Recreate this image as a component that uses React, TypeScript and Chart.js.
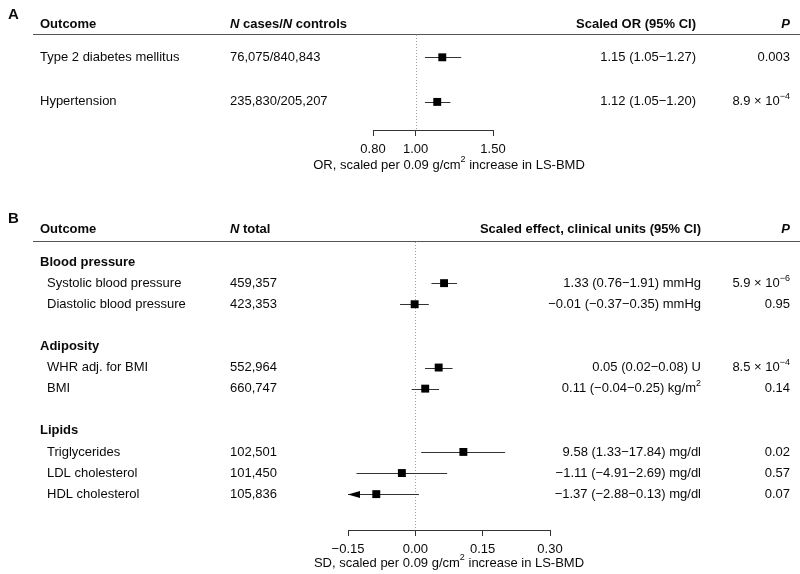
import { useEffect, useRef } from "react";
import { Chart, registerables } from "chart.js";

Chart.register(...registerables);

const FONT = '"Liberation Sans", Arial, Helvetica, sans-serif';
const INK = "#0a0a0a";

// ---------- Panel A data ----------
const aHeaders = ["Outcome", "*N* cases/*N* controls", "Scaled OR (95% CI)", "*P*"];
const aOutcomes = ["Type 2 diabetes mellitus", "Hypertension"];
const aCases = ["76,075/840,843", "235,830/205,207"];
const aRows = [0, 1];
const aOR = [1.15, 1.12];
const aLow = [1.05, 1.05];
const aHigh = [1.27, 1.2];
const aText = ["1.15 (1.05−1.27)", "1.12 (1.05−1.20)"];
const aP = ["0.003", "8.9 × 10^{−4}"];
const aTicks = [0.8, 1.0, 1.5];
const aAxisTitle = "OR, scaled per 0.09 g/cm^{2} increase in LS-BMD";

// ---------- Panel B data ----------
const bHeaders = ["Outcome", "*N* total", "Scaled effect, clinical units (95% CI)", "*P*"];
const bGroups = ["Blood pressure", "Adiposity", "Lipids"];
const bGroupRows = [0, 4, 8];
const bOutcomes = [
  "Systolic blood pressure",
  "Diastolic blood pressure",
  "WHR adj. for BMI",
  "BMI",
  "Triglycerides",
  "LDL cholesterol",
  "HDL cholesterol",
];
const bRows = [1, 2, 5, 6, 9, 10, 11];
const bN = ["459,357", "423,353", "552,964", "660,747", "102,501", "101,450", "105,836"];
const bEst = [0.064, -0.0015, 0.052, 0.022, 0.107, -0.03, -0.087];
const bLow = [0.036, -0.034, 0.0215, -0.008, 0.013, -0.131, -0.183];
const bHigh = [0.093, 0.03, 0.083, 0.053, 0.2, 0.071, 0.008];
const bText = [
  "1.33 (0.76−1.91) mmHg",
  "−0.01 (−0.37−0.35) mmHg",
  "0.05 (0.02−0.08) U",
  "0.11 (−0.04−0.25) kg/m^{2}",
  "9.58 (1.33−17.84) mg/dl",
  "−1.11 (−4.91−2.69) mg/dl",
  "−1.37 (−2.88−0.13) mg/dl",
];
const bP = ["5.9 × 10^{−6}", "0.95", "8.5 × 10^{−4}", "0.14", "0.02", "0.57", "0.07"];
const bTicks = [-0.15, 0, 0.15, 0.3];
const bAxisTitle = "SD, scaled per 0.09 g/cm^{2} increase in LS-BMD";

// ---------- helpers ----------
type Seg = { t: string; italic: boolean; sup: boolean };

function parseRich(s: string): Seg[] {
  const segs: Seg[] = [];
  let italic = false;
  let buf = "";
  const push = (sup = false) => {
    if (buf) segs.push({ t: buf, italic, sup });
    buf = "";
  };
  for (let i = 0; i < s.length; i++) {
    const c = s[i];
    if (c === "*") {
      push();
      italic = !italic;
    } else if (c === "^" && s[i + 1] === "{") {
      push();
      const end = s.indexOf("}", i);
      buf = s.slice(i + 2, end);
      push(true);
      i = end;
    } else {
      buf += c;
    }
  }
  push();
  return segs;
}

function drawRich(
  ctx: CanvasRenderingContext2D,
  s: string,
  x: number,
  y: number,
  align: "left" | "right" | "center",
  bold = false,
  size = 13
) {
  const segs = parseRich(s);
  const fontOf = (g: Seg) =>
    `${g.italic ? "italic " : ""}${bold ? "bold " : ""}${g.sup ? 9 : size}px ${FONT}`;
  let total = 0;
  const widths = segs.map((g) => {
    ctx.font = fontOf(g);
    const w = ctx.measureText(g.t).width;
    total += w;
    return w;
  });
  let cx = align === "right" ? x - total : align === "center" ? x - total / 2 : x;
  ctx.fillStyle = INK;
  ctx.textAlign = "left";
  ctx.textBaseline = "middle";
  segs.forEach((g, i) => {
    ctx.font = fontOf(g);
    ctx.fillText(g.t, cx, g.sup ? y - 5 : y);
    cx += widths[i];
  });
}

function hline(ctx: CanvasRenderingContext2D, y: number, x1: number, x2: number) {
  ctx.save();
  ctx.strokeStyle = "#555";
  ctx.lineWidth = 1;
  ctx.beginPath();
  ctx.moveTo(x1, y);
  ctx.lineTo(x2, y);
  ctx.stroke();
  ctx.restore();
}

function fmtTick(v: number) {
  const s = Math.abs(v).toFixed(2);
  return v < -1e-9 ? "−" + s : s;
}

type Panel = {
  xType: "linear" | "logarithmic";
  xMin: number;
  xMax: number;
  ticks: number[];
  yMin: number;
  yMax: number;
  rows: number[];
  est: number[];
  low: number[];
  high: number[];
  ref: number;
  pad: { left: number; right: number; top: number };
  axisH: number;
  tickLen: number;
  drawText: (ctx: CanvasRenderingContext2D, chart: any) => void;
};

function buildChart(canvas: HTMLCanvasElement, p: Panel) {
  const plugin = {
    id: "forest",
    beforeDatasetsDraw(chart: any) {
      const ctx: CanvasRenderingContext2D = chart.ctx;
      const xs = chart.scales.x;
      const ys = chart.scales.y;
      const ca = chart.chartArea;
      ctx.save();
      const rx = Math.round(xs.getPixelForValue(p.ref)) + 0.5;
      ctx.strokeStyle = "#a0a0a0";
      ctx.lineWidth = 1;
      ctx.setLineDash([1, 2]);
      ctx.beginPath();
      ctx.moveTo(rx, ca.top);
      ctx.lineTo(rx, ca.bottom);
      ctx.stroke();
      ctx.setLineDash([]);
      ctx.strokeStyle = "#333";
      ctx.fillStyle = "#000";
      p.rows.forEach((r, i) => {
        const y = Math.round(ys.getPixelForValue(r)) + 0.5;
        const lo = Math.max(p.low[i], p.xMin);
        const hi = Math.min(p.high[i], p.xMax);
        const x1 = xs.getPixelForValue(lo);
        const x2 = xs.getPixelForValue(hi);
        ctx.beginPath();
        ctx.moveTo(x1, y);
        ctx.lineTo(x2, y);
        ctx.stroke();
        if (p.low[i] < p.xMin) {
          ctx.beginPath();
          ctx.moveTo(x1, y);
          ctx.lineTo(x1 + 12, y - 3.5);
          ctx.lineTo(x1 + 12, y + 3.5);
          ctx.closePath();
          ctx.fill();
        }
        if (p.high[i] > p.xMax) {
          ctx.beginPath();
          ctx.moveTo(x2, y);
          ctx.lineTo(x2 - 12, y - 3.5);
          ctx.lineTo(x2 - 12, y + 3.5);
          ctx.closePath();
          ctx.fill();
        }
      });
      ctx.restore();
    },
    afterDraw(chart: any) {
      const ctx: CanvasRenderingContext2D = chart.ctx;
      ctx.save();
      p.drawText(ctx, chart);
      ctx.restore();
    },
  };

  return new Chart(canvas, {
    type: "scatter",
    data: {
      datasets: [
        {
          data: p.rows.map((r, i) => ({ x: p.est[i], y: r })),
          pointStyle: "rect",
          pointRadius: 5.6,
          pointHoverRadius: 5.6,
          backgroundColor: "#000",
          borderWidth: 0,
        },
      ],
    },
    options: {
      animation: false,
      responsive: false,
      devicePixelRatio: 1,
      events: [],
      layout: { padding: { left: p.pad.left, right: p.pad.right, top: p.pad.top, bottom: 0 } },
      plugins: { legend: { display: false }, tooltip: { enabled: false }, title: { display: false } },
      scales: {
        x: {
          type: p.xType,
          position: "bottom",
          min: p.xMin,
          max: p.xMax,
          afterBuildTicks: (s: any) => {
            s.ticks = p.ticks.map((v) => ({ value: v }));
          },
          afterFit: (s: any) => {
            s.height = p.axisH;
          },
          grid: {
            drawOnChartArea: false,
            drawTicks: true,
            tickLength: p.tickLen,
            color: "#333",
            lineWidth: 1,
          },
          border: { display: true, color: "#333", width: 1 },
          ticks: {
            callback: (v: any) => fmtTick(Number(v)),
            font: { family: FONT, size: 13 },
            color: INK,
            padding: 6,
            maxRotation: 0,
            autoSkip: false,
          },
          title: { display: false },
        },
        y: { type: "linear", display: false, min: p.yMin, max: p.yMax, reverse: true },
      },
    } as any,
    plugins: [plugin as any],
  });
}

const panelA: Panel = {
  xType: "logarithmic",
  xMin: 0.8,
  xMax: 1.5,
  ticks: aTicks,
  yMin: -0.5,
  yMax: 1.63,
  rows: aRows,
  est: aOR,
  low: aLow,
  high: aHigh,
  ref: 1,
  pad: { left: 373, right: 307, top: 35 },
  axisH: 50,
  tickLen: 6,
  drawText: (ctx, chart) => {
    const ys = chart.scales.y;
    const ca = chart.chartArea;
    drawRich(ctx, "A", 8, 14.5, "left", true, 15);
    const hy = 24;
    drawRich(ctx, aHeaders[0], 40, hy, "left", true);
    drawRich(ctx, aHeaders[1], 230, hy, "left", true);
    drawRich(ctx, aHeaders[2], 696, hy, "right", true);
    drawRich(ctx, aHeaders[3], 790, hy, "right", true);
    hline(ctx, 34.5, 33, 800);
    aRows.forEach((r, i) => {
      const y = ys.getPixelForValue(r);
      drawRich(ctx, aOutcomes[i], 40, y, "left");
      drawRich(ctx, aCases[i], 230, y, "left");
      drawRich(ctx, aText[i], 696, y, "right");
      drawRich(ctx, aP[i], 790, y, "right");
    });
    drawRich(ctx, aAxisTitle, 449, ca.bottom + 35, "center");
  },
};

const panelB: Panel = {
  xType: "linear",
  xMin: -0.15,
  xMax: 0.3,
  ticks: bTicks,
  yMin: -0.95,
  yMax: 12.7,
  rows: bRows,
  est: bEst,
  low: bLow,
  high: bHigh,
  ref: 0,
  pad: { left: 348, right: 250, top: 62 },
  axisH: 44,
  tickLen: 6,
  drawText: (ctx, chart) => {
    const ys = chart.scales.y;
    const ca = chart.chartArea;
    drawRich(ctx, "B", 8, 39, "left", true, 15);
    const hy = 49.5;
    drawRich(ctx, bHeaders[0], 40, hy, "left", true);
    drawRich(ctx, bHeaders[1], 230, hy, "left", true);
    drawRich(ctx, bHeaders[2], 701, hy, "right", true);
    drawRich(ctx, bHeaders[3], 790, hy, "right", true);
    hline(ctx, 61.5, 33, 800);
    bGroups.forEach((g, i) => {
      drawRich(ctx, g, 40, ys.getPixelForValue(bGroupRows[i]), "left", true);
    });
    bRows.forEach((r, i) => {
      const y = ys.getPixelForValue(r);
      drawRich(ctx, bOutcomes[i], 47, y, "left");
      drawRich(ctx, bN[i], 230, y, "left");
      drawRich(ctx, bText[i], 701, y, "right");
      drawRich(ctx, bP[i], 790, y, "right");
    });
    drawRich(ctx, bAxisTitle, 449, ca.bottom + 33, "center");
  },
};

export default function App() {
  const refA = useRef<HTMLCanvasElement>(null);
  const refB = useRef<HTMLCanvasElement>(null);
  useEffect(() => {
    const ca = buildChart(refA.current!, panelA);
    const cb = buildChart(refB.current!, panelB);
    return () => {
      ca.destroy();
      cb.destroy();
    };
  }, []);
  return (
    <div
      style={{
        position: "absolute",
        left: 0,
        top: 0,
        width: 800,
        height: 574,
        background: "#fff",
        overflow: "hidden",
      }}
    >
      <canvas
        ref={refA}
        width={800}
        height={180}
        style={{ position: "absolute", left: 0, top: 0, width: 800, height: 180 }}
      />
      <canvas
        ref={refB}
        width={800}
        height={394}
        style={{ position: "absolute", left: 0, top: 180, width: 800, height: 394 }}
      />
    </div>
  );
}
